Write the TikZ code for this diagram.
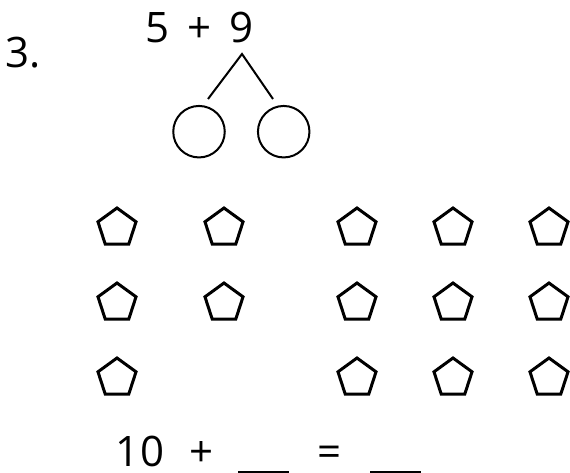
\documentclass[tikz,border=0pt]{standalone}
\usepackage{fontspec}
\setmainfont{Open Sans}
\usetikzlibrary{shapes.geometric}
\begin{document}
\begin{tikzpicture}[x=1pt,y=-1pt,
  pent/.style={draw, regular polygon, regular polygon sides=5, minimum size=40pt, inner sep=0pt, line width=3pt, line join=miter},
  ring/.style={draw, circle, minimum size=51.5pt, inner sep=0pt, line width=2pt},
  branch/.style={line width=2pt},
  txt/.style={font=\fontsize{42}{42}\selectfont, inner sep=0pt, anchor=base},
  lowtxt/.style={txt, text depth=0pt},
  blank/.style={inner sep=0pt, anchor=base}]
\useasboundingbox (0,0) rectangle (570,473);
% labels
\node[txt, anchor=base west] (num) at (5,67.7) {3.};
\node[txt] (s1) at (157.2,42.5) {5};
\node[txt] (s2) at (200,42.5) {+};
\node[txt] (s3) at (242,42.5) {9};
\node[lowtxt] (e1) at (140,466.3) {10};
\node[lowtxt] (e2) at (201.7,466.3) {+};
\node[blank] (e3) at (263.8,466.7) {\rule[-6.3pt]{51pt}{2.3pt}};
\node[lowtxt] (e4) at (329.7,466.3) {=};
\node[blank] (e5) at (395.8,466.7) {\rule[-6.3pt]{51pt}{2.3pt}};
% number bond
\coordinate (apex) at (242,54);
\coordinate (lend) at (208,99);
\coordinate (rend) at (273,99);
\draw[branch] (lend) -- (apex) -- (rend);
\node[ring] (c1) at (199,131.7) {};
\node[ring] (c2) at (283.7,131.7) {};
% pentagons
\foreach \x/\n in {117/a,224/b,357/c,453/d,549/e}{
  \foreach \y/\m in {228/1,303/2}{
    \node[pent] (p\n\m) at (\x,\y) {};
  }
}
\foreach \x/\n in {117/a,357/c,453/d,549/e}{
  \node[pent] (p\n3) at (\x,378) {};
}
\end{tikzpicture}
\end{document}
